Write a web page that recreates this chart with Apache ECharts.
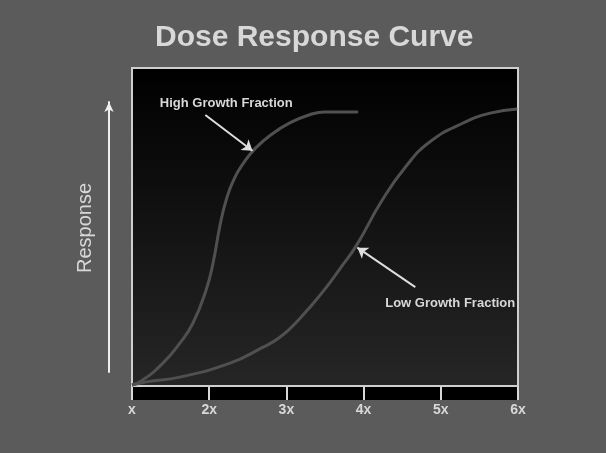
<!DOCTYPE html>
<html>
<head>
<meta charset="utf-8">
<script src="https://cdn.jsdelivr.net/npm/echarts@6/dist/echarts.min.js"></script>
<style>
  html, body { margin: 0; padding: 0; background: #5b5b5b; }
  #chart { width: 606px; height: 453px; }
</style>
</head>
<body>
<div id="chart"></div>
<script>
// dose in multiples of x, response in % of max
var highDose = [1.0, 1.14, 1.40, 1.62, 1.79, 1.96, 2.05, 2.14, 2.22, 2.32, 2.45, 2.60, 2.80, 3.05, 3.30, 3.50, 3.93];
var highResp = [0.3, 1.9, 7.2, 13.5, 19.8, 30.2, 38.7, 50.5, 58.5, 65.0, 70.3, 74.8, 79.0, 82.8, 85.3, 86.2, 86.2];
var lowDose = [1.0, 1.19, 1.62, 2.27, 2.65, 2.92, 3.18, 3.47, 3.70, 3.91, 4.23, 4.54, 4.86, 5.29, 5.64, 5.99];
var lowResp = [0.3, 1.3, 2.8, 7.2, 11.6, 15.4, 21.4, 29.6, 37.1, 44.3, 58.0, 68.8, 76.8, 82.7, 85.8, 87.1];
var tickLabels = ['x', '2x', '3x', '4x', '5x', '6x'];

function pairs(xs, ys) {
    return xs.map(function (x, i) { return [x, ys[i]]; });
}

var myChart = echarts.init(document.getElementById('chart'));
var textColor = '#d8d8d8';
var curveColor = '#505050';
var arrowStyle = { color: '#dedede', width: 2, type: 'solid' };

myChart.setOption({
    backgroundColor: '#5b5b5b',
    animation: false,
    title: {
        text: 'Dose Response Curve',
        left: 150,
        top: 18,
        textStyle: { color: textColor, fontSize: 30, fontWeight: 'bold', fontFamily: 'Liberation Sans' }
    },
    grid: [
        {   // main plot
            left: 132, top: 68, width: 386, height: 318,
            show: true,
            borderColor: '#cfcfcf', borderWidth: 2,
            backgroundColor: new echarts.graphic.LinearGradient(0, 0, 0, 1, [
                { offset: 0, color: '#000000' },
                { offset: 1, color: '#262626' }
            ])
        },
        {   // black strip with tick marks
            left: 132, top: 387, width: 386, height: 13,
            show: true, borderWidth: 0, backgroundColor: '#000000'
        },
        {   // response arrow
            left: 109, top: 102, width: 1, height: 270,
            show: false
        }
    ],
    xAxis: [
        { gridIndex: 0, type: 'value', min: 1, max: 6, show: false },
        {
            gridIndex: 1, type: 'value', min: 1, max: 6, interval: 1,
            axisLine: { show: false },
            axisTick: { show: false },
            splitLine: { show: true, lineStyle: { color: '#d8d8d8', width: 2 } },
            axisLabel: {
                color: textColor, fontSize: 14, fontWeight: 'bold', margin: 3,
                fontFamily: 'Liberation Sans',
                formatter: function (v) { return tickLabels[Math.round(v) - 1]; }
            }
        },
        { gridIndex: 2, type: 'value', show: false }
    ],
    yAxis: [
        { gridIndex: 0, type: 'value', min: 0, max: 100, show: false },
        { gridIndex: 1, type: 'value', show: false },
        {
            gridIndex: 2, type: 'value', min: 0, max: 1,
            name: 'Response',
            nameLocation: 'middle',
            nameGap: 14,
            nameTextStyle: {
                color: textColor, fontSize: 20, fontFamily: 'Liberation Sans',
                padding: [0, 0, 0, 18]
            },
            axisLine: {
                show: true,
                symbol: ['none', 'arrow'],
                symbolSize: [7, 10],
                lineStyle: { color: '#eeeeee', width: 2 }
            },
            axisTick: { show: false },
            axisLabel: { show: false },
            splitLine: { show: false }
        }
    ],
    series: [
        {
            name: 'High Growth Fraction',
            type: 'line',
            xAxisIndex: 0, yAxisIndex: 0,
            smooth: true,
            symbol: 'none',
            lineStyle: { color: curveColor, width: 3 },
            data: pairs(highDose, highResp),
            markLine: {
                silent: true,
                symbol: ['none', 'arrow'],
                symbolSize: 10,
                lineStyle: arrowStyle,
                label: { show: false },
                data: [[{ coord: [1.95, 85.2] }, { coord: [2.56, 74.0] }]]
            },
            markPoint: {
                symbol: 'circle', symbolSize: 0,
                label: {
                    show: true, position: 'right', distance: 0,
                    color: textColor, fontSize: 13, fontWeight: 'bold', fontFamily: 'Liberation Sans',
                    formatter: 'High Growth Fraction'
                },
                data: [{ coord: [1.36, 89.0] }]
            }
        },
        {
            name: 'Low Growth Fraction',
            type: 'line',
            xAxisIndex: 0, yAxisIndex: 0,
            smooth: true,
            symbol: 'none',
            lineStyle: { color: curveColor, width: 3 },
            data: pairs(lowDose, lowResp),
            markLine: {
                silent: true,
                symbol: ['none', 'arrow'],
                symbolSize: 10,
                lineStyle: arrowStyle,
                label: { show: false },
                data: [[{ coord: [4.67, 31.1] }, { coord: [3.92, 43.5] }]]
            },
            markPoint: {
                symbol: 'circle', symbolSize: 0,
                label: {
                    show: true, position: 'right', distance: 0,
                    color: textColor, fontSize: 13, fontWeight: 'bold', fontFamily: 'Liberation Sans',
                    formatter: 'Low Growth Fraction'
                },
                data: [{ coord: [4.28, 26.1] }]
            }
        }
    ]
});
</script>
</body>
</html>
